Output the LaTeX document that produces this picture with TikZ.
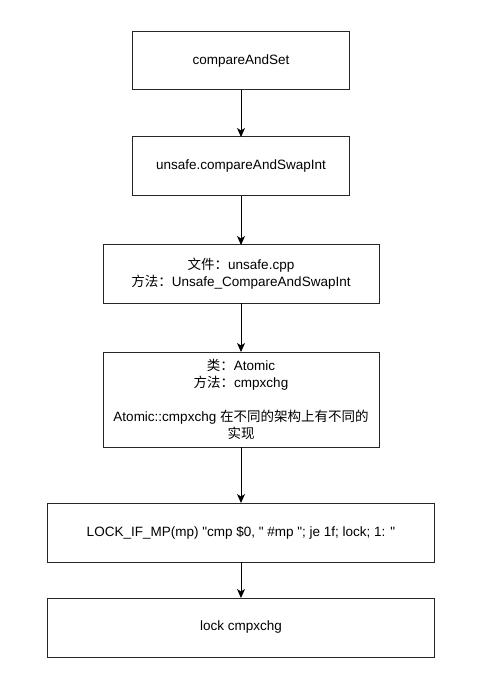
\documentclass[tikz,border=0pt]{standalone}
\usepackage{fontspec}
\setmainfont{Liberation Sans}
\newfontfamily\cjk{Noto Sans CJK SC}
\usepackage{tikz}
\usepackage{xcolor}
\usetikzlibrary{arrows.meta, positioning}
% straight double quote, kept out of the TeX quote mapping
\newcommand\dq{\XeTeXglyph\XeTeXcharglyph"22 }

\begin{document}
\begin{tikzpicture}[
    x=1pt, y=-1pt,
    % Box styles
    step box/.style={rectangle, draw=black!85, fill=white, line width=1pt, outer sep=0pt, align=center, font=\fontsize{13.5}{17}\selectfont, minimum height=58pt},
    narrow/.style={step box, minimum width=217pt},
    middle/.style={step box, minimum width=276pt},
    wide/.style={step box, minimum width=387pt},
    % Arrow style
    callarrow/.style={-{Stealth[length=9pt, width=8pt, inset=2.5pt]}, line width=1pt, draw=black},
]
\useasboundingbox (0,0) rectangle (490,692);

% ============================================================================
% JAVA LAYER
% ============================================================================
\node[narrow] (cas) at (241,61) {compareAndSet};
\node[narrow, minimum height=59pt, below=47pt of cas] (unsafecas) {unsafe.compareAndSwapInt};

% ============================================================================
% NATIVE LAYER
% ============================================================================
\node[middle, below=49pt of unsafecas] (cppfile) {{\cjk 文件：}unsafe.cpp\\{\cjk 方法：}Unsafe\_CompareAndSwapInt};
\node[middle, minimum height=95pt, below=49pt of cppfile] (atomic) {{\cjk 类：}Atomic\\{\cjk 方法：}cmpxchg\\[17pt]Atomic::cmpxchg {\cjk 在不同的架构上有不同的}\\{\cjk 实现}};

% ============================================================================
% ASSEMBLY
% ============================================================================
\node[wide, minimum height=59pt, below=56pt of atomic] (lockmp) {LOCK\_IF\_MP(mp) \dq cmp \$0, \dq{} \#mp \dq; je 1f; lock; 1: \dq};
\node[wide, minimum height=59pt, below=36pt of lockmp] (lockcmp) {lock cmpxchg};

% Call chain
\draw[callarrow] (cas) -- (unsafecas);
\draw[callarrow] (unsafecas) -- (cppfile);
\draw[callarrow] (cppfile) -- (atomic);
\draw[callarrow] (atomic) -- (lockmp);
\draw[callarrow] (lockmp) -- (lockcmp);

\end{tikzpicture}
\end{document}
